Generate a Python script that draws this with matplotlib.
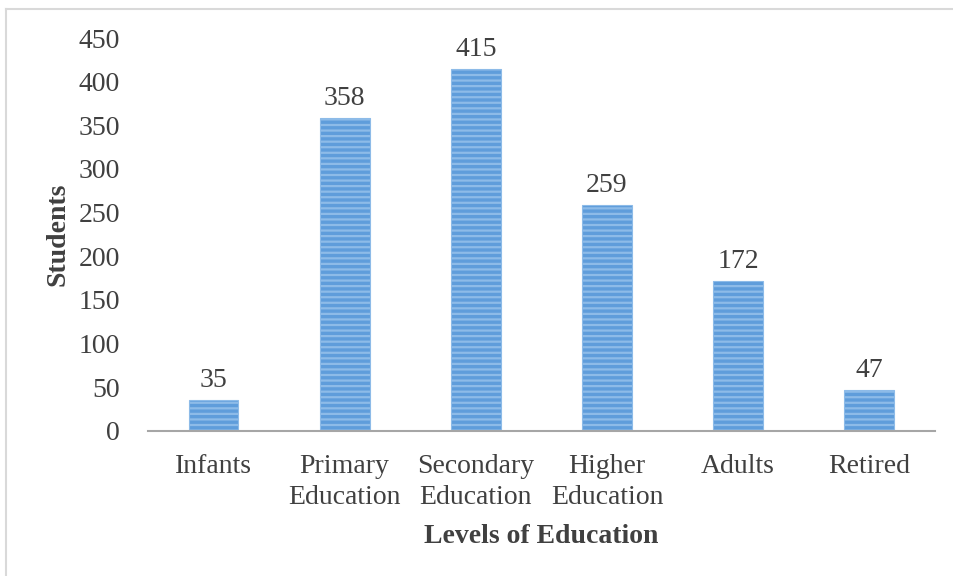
import matplotlib.pyplot as plt
from matplotlib.lines import Line2D

plt.rcParams['font.family'] = ['Liberation Serif', 'DejaVu Serif']
plt.rcParams['hatch.color'] = '#d9e8f7'
plt.rcParams['hatch.linewidth'] = 1.6

categories = ['Infants', 'Primary\nEducation', 'Secondary\nEducation',
              'Higher\nEducation', 'Adults', 'Retired']
students = [35, 358, 415, 259, 172, 47]
y_ticks = [0, 50, 100, 150, 200, 250, 300, 350, 400, 450]

fig = plt.figure(figsize=(9.54, 5.76), dpi=100)
ax = fig.add_axes([0.155, 0.252, 0.825, 0.682])

x = range(len(categories))
bars = ax.bar(x, students, width=0.38, color='#5f9ddb', edgecolor='#8dbbe8',
              linewidth=0.8, hatch='---')

for xi, v in zip(x, students):
    ax.text(xi, v + 8, str(v), ha='center', va='bottom', fontsize=20, color='#404040')

ax.set_xlim(-0.5, len(categories) - 0.5)
ax.set_ylim(0, 450)
ax.set_yticks(y_ticks)
ax.set_xticks(list(x))
ax.set_xticklabels(categories, fontsize=20, color='#404040', linespacing=1.3)
ax.tick_params(axis='y', labelsize=20, labelcolor='#404040', length=0, pad=20)
ax.tick_params(axis='x', length=0, pad=17)

for s in ['top', 'right', 'left']:
    ax.spines[s].set_visible(False)
ax.spines['bottom'].set_color('#a6a6a6')
ax.spines['bottom'].set_linewidth(1.5)

ax.set_ylabel('Students', fontsize=20, fontweight='bold', color='#404040', labelpad=6)
ax.set_xlabel('Levels of Education', fontsize=20, fontweight='bold', color='#404040', labelpad=10)

# light frame around the chart
fig.add_artist(Line2D([6 / 954, 6 / 954], [0, 1 - 9 / 576], transform=fig.transFigure,
                      color='#d9d9d9', linewidth=1.5))
fig.add_artist(Line2D([6 / 954, 1], [1 - 9 / 576, 1 - 9 / 576], transform=fig.transFigure,
                      color='#d9d9d9', linewidth=1.5))

fig.savefig('out.png', dpi=100)
